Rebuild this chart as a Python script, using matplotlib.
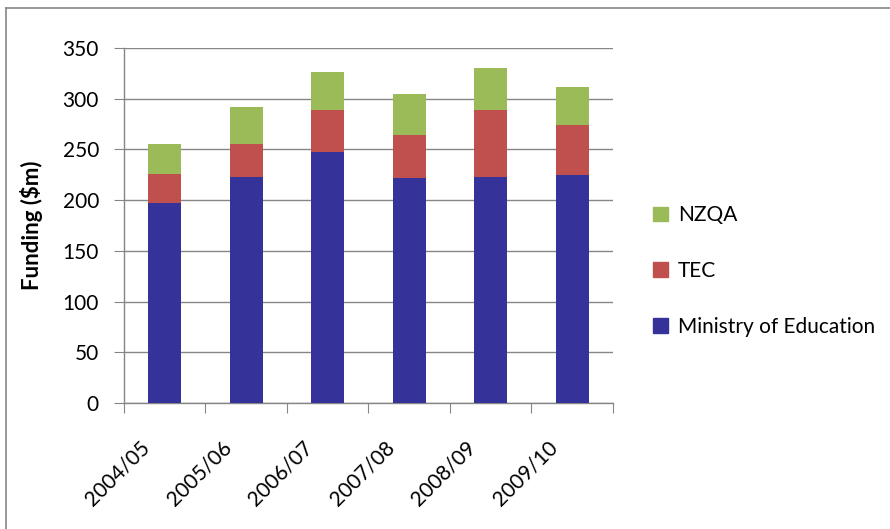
import numpy as np
import matplotlib.pyplot as plt
import matplotlib.transforms as mtransforms
from matplotlib.lines import Line2D
from matplotlib.patches import Patch

years = ['2004/05', '2005/06', '2006/07', '2007/08', '2008/09', '2009/10']
ministry = [197, 223, 247, 222, 223, 225]
tec = [29, 32, 42, 42, 66, 49]
nzqa = [29, 37, 37, 41, 41, 38]

blue = '#353399'
red = '#C0504D'
green = '#9BBB59'
grey = '#868686'

plt.rcParams['font.family'] = ['Lato', 'DejaVu Sans']

fig = plt.figure(figsize=(8.9, 5.29), dpi=100)
ax = fig.add_axes([124 / 890, 1 - 403 / 529, 489 / 890, 355 / 529])

x = np.arange(len(years))
base2 = np.array(ministry)
base3 = base2 + np.array(tec)
w = 0.41
ax.bar(x, ministry, w, color=blue, zorder=3)
ax.bar(x, tec, w, bottom=base2, color=red, zorder=3)
ax.bar(x, nzqa, w, bottom=base3, color=green, zorder=3)

ax.set_xlim(-0.5, len(years) - 0.5)
ax.set_ylim(0, 350)
ax.set_yticks(range(0, 351, 50))
ax.yaxis.grid(True, color=grey, linewidth=1)
ax.set_axisbelow(True)

# category boundaries get the tick marks, labels sit in the middle
ax.set_xticks(np.arange(-0.5, len(years), 1))
ax.set_xticklabels([])
ax.set_xticks(x, minor=True)
ax.set_xticklabels(years, minor=True, rotation=45, ha='right',
                   rotation_mode='anchor', fontsize=15)
ax.tick_params(axis='x', which='major', length=7, color=grey, direction='out')
ax.tick_params(axis='x', which='minor', length=0, pad=12)
ax.tick_params(axis='y', length=7, color=grey, labelsize=15, pad=11)

shift = mtransforms.ScaledTranslation(-0.25, -0.18, fig.dpi_scale_trans)
for lab in ax.get_xticklabels(minor=True):
    lab.set_transform(lab.get_transform() + shift)

for side in ['top', 'right']:
    ax.spines[side].set_visible(False)
for side in ['left', 'bottom']:
    ax.spines[side].set_color(grey)
    ax.spines[side].set_linewidth(1)

ax.set_ylabel('Funding ($m)', fontsize=16, fontweight='bold', labelpad=14)

handles = [Patch(color=green), Patch(color=red), Patch(color=blue)]
fig.legend(handles, ['NZQA', 'TEC', 'Ministry of Education'],
           loc='upper left', bbox_to_anchor=(645 / 890, 1 - 197 / 529),
           frameon=False, fontsize=15, handlelength=0.72, handleheight=0.72,
           handletextpad=0.45, labelspacing=1.72, borderaxespad=0)

# outer frame of the chart area
fig.add_artist(Line2D([5.5 / 890, 5.5 / 890], [0, 1 - 8 / 529],
                      transform=fig.transFigure, color=grey, linewidth=1.2))
fig.add_artist(Line2D([5.5 / 890, 1], [1 - 8 / 529, 1 - 8 / 529],
                      transform=fig.transFigure, color=grey, linewidth=1.2))

fig.savefig('out.png', dpi=100)
